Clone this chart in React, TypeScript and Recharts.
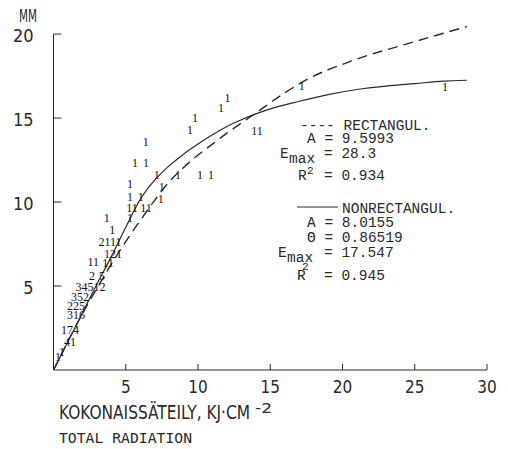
import { ComposedChart, Line, ReferenceLine, Scatter, XAxis, YAxis } from 'recharts';

// Fitted light-response curves
const rectX = [0, 1, 2, 3, 4, 5, 6, 7, 8, 9, 10, 11, 12, 13, 14, 16, 18, 20, 22, 24, 26, 28.6];
const rectY = [0, 1.7, 3.35, 4.85, 6.3, 7.65, 8.9, 10.1, 11.2, 12.05, 12.8, 13.45, 14.1, 14.7, 15.3, 16.5, 17.5, 18.2, 18.8, 19.3, 19.8, 20.45];

const nonRectX = [0, 1, 2, 3, 4, 5, 6, 7, 8, 9, 10, 11, 12, 13, 14, 15, 17, 19, 21, 23, 25, 27, 28.6];
const nonRectY = [0, 1.7, 3.4, 5.1, 6.75, 8.5, 10.15, 11.3, 12.15, 12.85, 13.45, 14.0, 14.5, 14.9, 15.25, 15.55, 16.0, 16.4, 16.7, 16.9, 17.05, 17.2, 17.25];

// Observations, printed as point counts
const obsX = [12.04, 11.59, 9.79, 9.45, 6.38, 5.64, 6.4, 7.14, 8.62, 10.14, 10.9, 14.08, 17.18, 27.09, 5.29, 7.49, 5.29, 6.03, 7.42, 5.43, 6.4, 3.68, 5.29, 4.07, 3.91, 4.12, 2.75, 3.77, 2.66, 3.36, 2.56, 1.83, 1.56, 1.56, 1.14, 1.14, 0.59, 0.31];
const obsY = [16.21, 15.58, 15.0, 14.29, 13.59, 12.3, 12.3, 11.61, 11.61, 11.61, 11.61, 14.23, 16.9, 16.85, 11.07, 10.91, 10.32, 10.32, 10.18, 9.63, 9.63, 9.03, 9.03, 8.33, 7.6, 6.9, 6.41, 6.37, 5.6, 5.6, 4.96, 4.35, 3.81, 3.27, 2.38, 1.67, 1.07, 0.77];
const obsCount = ['1', '1', '1', '1', '1', '1', '1', '1', '1', '1', '1', '11', '1', '1', '1', '1', '1', '1', '1', '11', '11', '1', '1', '1', '2111', '121', '11', '11', '2', '5', '34512', '352', '225', '316', '174', '41', '1', '1'];

const xTicks = [5, 10, 15, 20, 25, 30];
const yTicks = [5, 10, 15, 20];

const rectData = rectX.map((x, i) => ({ x, y: rectY[i] }));
const nonRectData = nonRectX.map((x, i) => ({ x, y: nonRectY[i] }));
const obsData = obsX.map((x, i) => ({ x, y: obsY[i], n: obsCount[i] }));

const INK = '#2a2a2a';
const AXIS_FONT = '"DejaVu Sans Condensed", "DejaVu Sans", sans-serif';
const MONO = '"Liberation Mono", "DejaVu Sans Mono", monospace';

function CountMark(props: any) {
  const { cx, cy, payload } = props;
  return (
    <text
      x={cx}
      y={cy}
      textAnchor="middle"
      dominantBaseline="central"
      fontFamily='"Liberation Serif", "DejaVu Serif", serif'
      fontSize={12}
      fill="#111"
    >
      {payload.n}
    </text>
  );
}

function Annotations() {
  const t = { fontFamily: MONO, fontSize: 14.5, fill: INK } as const;
  return (
    <svg
      width={508}
      height={449}
      style={{ position: 'absolute', left: 0, top: 0, pointerEvents: 'none' }}
    >
      <text x={19} y={22} fontFamily={AXIS_FONT} fontSize={17} fill={INK} textLength={18} lengthAdjust="spacingAndGlyphs">
        MM
      </text>

      <text x={300} y={130} {...t}>---- RECTANGUL.</text>
      <text x={307} y={143} {...t}>A = 9.5993</text>
      <text x={280} y={158} {...t}>E</text>
      <text x={289} y={163} {...t}>max</text>
      <text x={324} y={158} {...t}>= 28.3</text>
      <text x={298} y={180} {...t}>R</text>
      <text x={307} y={174} {...t} fontSize={11}>2</text>
      <text x={324} y={180} {...t}>= 0.934</text>

      <line x1={297} x2={338} y1={207} y2={207} stroke={INK} strokeWidth={1.2} />
      <text x={342} y={213} {...t}>NONRECTANGUL.</text>
      <text x={307} y={227} {...t}>A = 8.0155</text>
      <text x={307} y={242} {...t}>Θ = 0.86519</text>
      <text x={278} y={257} {...t}>E</text>
      <text x={287} y={262} {...t}>max</text>
      <text x={324} y={257} {...t}>= 17.547</text>
      <text x={297} y={280} {...t}>R</text>
      <text x={302} y={270} {...t} fontSize={11}>2</text>
      <text x={324} y={280} {...t}>= 0.945</text>

      <text x={59} y={419} fontFamily={AXIS_FONT} fontSize={20} fill={INK} textLength={191} lengthAdjust="spacingAndGlyphs">
        KOKONAISSÄTEILY, KJ·CM
      </text>
      <text x={255} y={413} fontFamily={AXIS_FONT} fontSize={14} fill={INK} textLength={17} lengthAdjust="spacingAndGlyphs">
        -2
      </text>
      <text x={59} y={443} fontFamily='"DejaVu Sans Mono", monospace' fontSize={13.5} fill={INK} textLength={133} lengthAdjust="spacingAndGlyphs">
        TOTAL RADIATION
      </text>
    </svg>
  );
}

export default function App() {
  return (
    <div style={{ position: 'fixed', left: 0, top: 0, width: 508, height: 449, background: '#fff' }}>
      <ComposedChart width={508} height={449} margin={{ top: 24, right: 21, left: 0, bottom: 0 }}>
        <XAxis
          type="number"
          dataKey="x"
          domain={[0, 30]}
          ticks={xTicks}
          tickSize={-6}
          tickMargin={17}
          height={79}
          stroke={INK}
          tick={{ fill: INK, fontSize: 17, fontFamily: AXIS_FONT }}
          allowDataOverflow
        />
        {/* headroom above 20 so the dashed curve is not clipped; axis line drawn separately */}
        <YAxis
          type="number"
          dataKey="y"
          domain={[0, 20.6]}
          ticks={yTicks}
          tickSize={-8}
          tickMargin={28}
          width={53.5}
          stroke={INK}
          axisLine={false}
          tick={{ fill: INK, fontSize: 18, fontFamily: AXIS_FONT, dy: 2 }}
          allowDataOverflow
        />
        <ReferenceLine
          segment={[
            { x: 0, y: 0 },
            { x: 0, y: 20 },
          ]}
          stroke={INK}
          strokeWidth={1}
        />
        <Line
          data={rectData}
          dataKey="y"
          type="monotone"
          stroke={INK}
          strokeWidth={1.4}
          strokeDasharray="10 6"
          dot={false}
          activeDot={false}
          isAnimationActive={false}
        />
        <Line
          data={nonRectData}
          dataKey="y"
          type="monotone"
          stroke={INK}
          strokeWidth={1.2}
          dot={false}
          activeDot={false}
          isAnimationActive={false}
        />
        <Scatter data={obsData} dataKey="y" shape={CountMark} isAnimationActive={false} />
      </ComposedChart>
      <Annotations />
    </div>
  );
}
